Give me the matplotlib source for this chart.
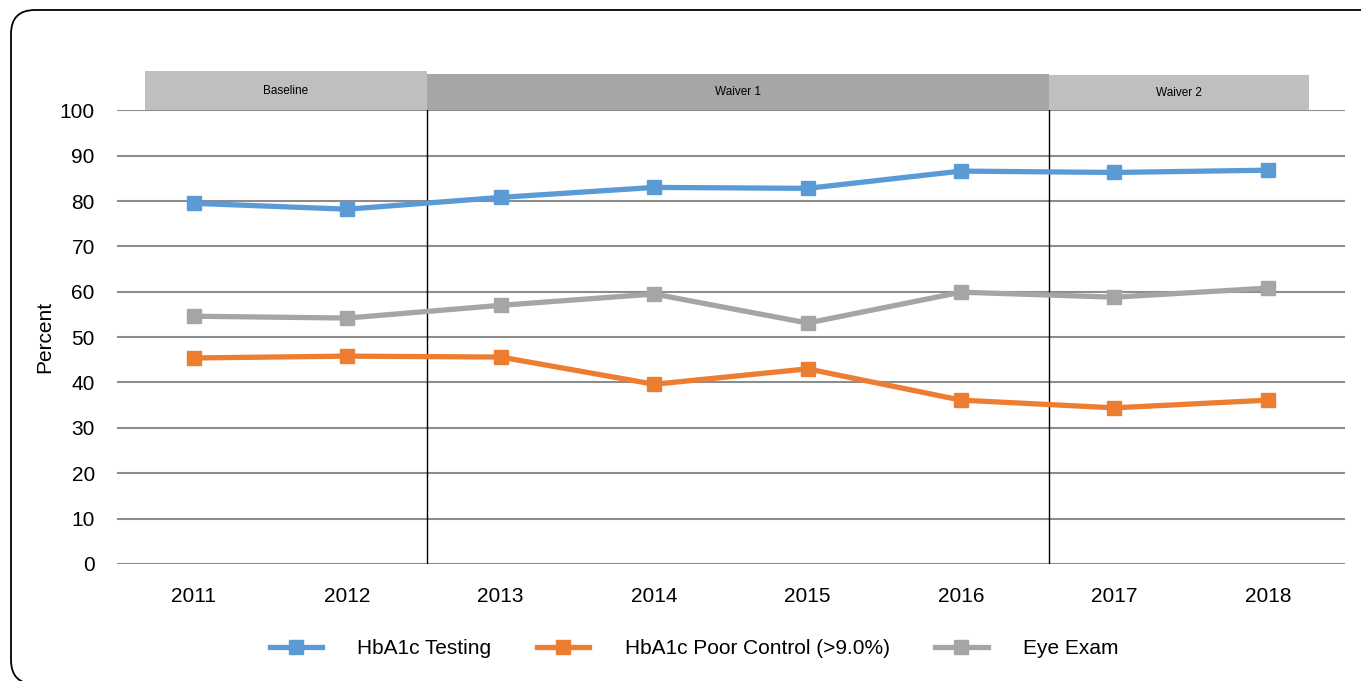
import matplotlib.pyplot as plt
from matplotlib.patches import Rectangle, FancyBboxPatch

plt.rcParams['font.family'] = ['Liberation Sans', 'DejaVu Sans']

years = ['2011', '2012', '2013', '2014', '2015', '2016', '2017', '2018']
hba1c_testing = [79.5, 78.2, 80.8, 83.0, 82.8, 86.6, 86.3, 86.8]
poor_control = [45.4, 45.8, 45.6, 39.6, 43.0, 36.1, 34.4, 36.1]
eye_exam = [54.6, 54.2, 57.0, 59.5, 53.1, 59.9, 58.8, 60.8]

series_names = ['HbA1c Testing', 'HbA1c Poor Control (>9.0%)', 'Eye Exam']
series_colors = ['#5B9BD5', '#ED7D31', '#A5A5A5']

# period bands: label, start, end, top, colour
periods = [('Baseline', -0.32, 1.52, 108.6, '#BFBFBF'),
           ('Waiver 1', 1.52, 5.57, 107.9, '#A6A6A6'),
           ('Waiver 2', 5.57, 7.27, 107.7, '#BFBFBF')]
dividers = [1.52, 5.57]

fig = plt.figure(figsize=(13.61, 6.81), dpi=100)
ax = fig.add_axes([0.086, 0.172, 0.902, 0.666])

x = range(len(years))
for vals, name, col in zip([hba1c_testing, poor_control, eye_exam], series_names, series_colors):
    ax.plot(x, vals, color=col, lw=3.8, marker='s', markersize=10, label=name, zorder=3)

ax.set_xlim(-0.5, 7.5)
ax.set_ylim(0, 100)
ax.set_yticks(range(0, 101, 10))
ax.set_xticks(list(x))
ax.set_xticklabels(years)
ax.yaxis.grid(True, color='#8C8C8C', lw=1.5)
ax.set_axisbelow(True)
for s in ax.spines.values():
    s.set_visible(False)
ax.tick_params(length=0, labelsize=15)
ax.tick_params(axis='y', pad=16)
ax.tick_params(axis='x', pad=17)
ax.set_ylabel('Percent', fontsize=15, labelpad=4)

for label, x0, x1, top, col in periods:
    ax.add_patch(Rectangle((x0, 100), x1 - x0, top - 100, facecolor=col,
                           edgecolor='none', clip_on=False, zorder=4))
    ax.text((x0 + x1) / 2, 100 + (top - 100) / 2, label, ha='center', va='center',
            fontsize=8.5, clip_on=False, zorder=5)

for d in dividers:
    ax.plot([d, d], [0, 100], color='black', lw=1, zorder=2)

ax.legend(loc='upper center', bbox_to_anchor=(0.47, -0.125), ncol=3, frameon=False,
          fontsize=15, handlelength=2.5, columnspacing=2.2, handletextpad=1.7)

# rounded outer frame, running off the right and bottom edges
fig.patches.append(FancyBboxPatch((0.11, -0.03), 13.74, 6.74, transform=fig.dpi_scale_trans,
                                  boxstyle='round,pad=0,rounding_size=0.24',
                                  facecolor='none', edgecolor='black', lw=1.3))

fig.savefig('out.png', dpi=100)
